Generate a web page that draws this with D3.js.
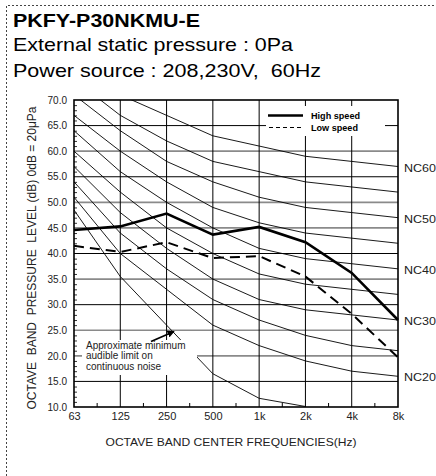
<!DOCTYPE html>
<html>
<head>
<meta charset="utf-8">
<script src="https://cdn.jsdelivr.net/npm/d3@7"></script>
<style>
body { margin: 0; background: #fff; }
svg { display: block; font-family: "Liberation Sans", Arial, sans-serif; }
</style>
</head>
<body>
<div id="container"></div>
<script>
// octave band centre frequencies
const freqLabels = ["63", "125", "250", "500", "1k", "2k", "4k", "8k"];
const yTicks = [10, 15, 20, 25, 30, 35, 40, 45, 50, 55, 60, 65, 70];
const grayGrid = [20, 25, 35, 45, 50, 60];

const highSpeed = [44.6, 45.3, 47.8, 43.7, 45.2, 42.2, 36.2, 27.0];
const lowSpeed = [41.5, 40.3, 42.2, 39.1, 39.5, 35.5, 28.2, 19.7];

// NC curves (dB at each octave band)
const ncLevels = [20, 25, 30, 35, 40, 45, 50, 55, 60];
const ncCurves = [
    [51, 40, 33, 26, 22, 19, 17, 16],
    [54, 44, 37, 31, 27, 24, 22, 21],
    [57, 48, 41, 35, 31, 29, 28, 27],
    [60, 52, 45, 40, 36, 34, 33, 32],
    [64, 56, 50, 45, 41, 39, 38, 37],
    [67, 60, 54, 49, 46, 44, 43, 42],
    [71, 64, 58, 54, 51, 49, 48, 47],
    [74, 67, 62, 58, 56, 54, 53, 52],
    [77, 71, 67, 63, 61, 59, 58, 57]
];
const ncLabeled = [20, 30, 40, 50, 60];
const audibleLimit = [48.5, 35.5, 26.0, 16.5, 11.7, 10.1];

const titleLines = ["External static pressure : 0Pa", "Power source : 208,230V,  60Hz"];
const noteLines = ["Approximate minimum", "audible limit on", "continuous noise"];

const width = 436, height = 476;
const plotL = 74, plotR = 398, plotT = 100, plotB = 407;

const svg = d3.select("#container").append("svg")
    .attr("width", width)
    .attr("height", height);

const x = d3.scalePoint().domain(freqLabels).range([plotL, plotR]);
const y = d3.scaleLinear().domain([10, 70]).range([plotB, plotT]);

// dashed frame round the sheet
svg.append("path")
    .attr("d", `M6.5,${height} V5.5 H${width}`)
    .attr("fill", "none")
    .attr("stroke", "#444")
    .attr("stroke-dasharray", "2,2");

// headings
svg.append("text")
    .attr("x", 13).attr("y", 26.5)
    .attr("font-size", 18.5).attr("font-weight", "bold")
    .attr("textLength", 187).attr("lengthAdjust", "spacingAndGlyphs")
    .text("PKFY-P30NKMU-E");
svg.selectAll("text.sub").data(titleLines).join("text")
    .attr("class", "sub")
    .attr("x", 13)
    .attr("y", (d, i) => 50.5 + i * 26.5)
    .attr("font-size", 18.5)
    .attr("textLength", (d, i) => i ? 308 : 280)
    .attr("lengthAdjust", "spacingAndGlyphs")
    .attr("xml:space", "preserve")
    .text(d => d);

svg.append("clipPath").attr("id", "plot")
    .append("rect").attr("x", plotL).attr("y", plotT)
    .attr("width", plotR - plotL).attr("height", plotB - plotT);

// grid
svg.append("g").selectAll("line")
    .data(yTicks.filter(d => d > 10 && d < 70))
    .join("line")
    .attr("x1", plotL).attr("x2", plotR)
    .attr("y1", d => y(d)).attr("y2", d => y(d))
    .attr("stroke", d => grayGrid.includes(d) ? "#8a8a8a" : "#000")
    .attr("stroke-width", d => grayGrid.includes(d) ? 1.6 : 1);
svg.append("g").selectAll("line")
    .data(freqLabels.slice(1, -1))
    .join("line")
    .attr("x1", d => x(d)).attr("x2", d => x(d))
    .attr("y1", plotT).attr("y2", plotB)
    .attr("stroke", "#000");

// minor ticks
const minorY = d3.range(10, 71).filter(d => d % 5 !== 0);
svg.append("g")
    .attr("transform", `translate(${plotL},0)`)
    .call(d3.axisRight(y).tickValues(minorY).tickSize(3).tickFormat(""))
    .call(g => g.select(".domain").remove())
    .call(g => g.selectAll("line").attr("stroke", "#333"));
const mids = d3.pairs(freqLabels).map(([a, b]) => (x(a) + x(b)) / 2);
svg.append("g").selectAll("line").data(mids).join("line")
    .attr("x1", d => d).attr("x2", d => d)
    .attr("y1", plotB).attr("y2", plotB - 4)
    .attr("stroke", "#000");

// NC curves
const line = d3.line().x((d, i) => x(freqLabels[i])).y(d => y(d));
const curves = svg.append("g").attr("clip-path", "url(#plot)");
curves.selectAll("path.nc").data(ncCurves).join("path")
    .attr("class", "nc")
    .attr("d", line)
    .attr("fill", "none")
    .attr("stroke", "#000")
    .attr("stroke-width", 0.9);
curves.append("path")
    .attr("d", line(audibleLimit))
    .attr("fill", "none")
    .attr("stroke", "#000")
    .attr("stroke-width", 0.9);

// frame
svg.append("rect")
    .attr("x", plotL).attr("y", plotT)
    .attr("width", plotR - plotL).attr("height", plotB - plotT)
    .attr("fill", "none").attr("stroke", "#000").attr("stroke-width", 1.6);

// axes labels
svg.append("g")
    .attr("transform", `translate(${plotL},0)`)
    .call(d3.axisLeft(y).tickValues(yTicks).tickFormat(d3.format(".1f")).tickSize(0).tickPadding(7))
    .call(g => g.select(".domain").remove())
    .call(g => g.selectAll("text").attr("font-size", 10).attr("font-family", null).attr("fill", "#222"));
svg.append("g")
    .attr("transform", `translate(0,${plotB})`)
    .call(d3.axisBottom(x).tickSize(0).tickPadding(5))
    .call(g => g.select(".domain").remove())
    .call(g => g.selectAll("text").attr("font-size", 11).attr("font-family", null).attr("fill", "#222"));

svg.append("text")
    .attr("x", 231).attr("y", 446)
    .attr("text-anchor", "middle")
    .attr("font-size", 11).attr("fill", "#222")
    .attr("textLength", 251).attr("lengthAdjust", "spacingAndGlyphs")
    .text("OCTAVE BAND CENTER FREQUENCIES(Hz)");
svg.append("text")
    .attr("transform", "translate(36,258) rotate(-90)")
    .attr("text-anchor", "middle")
    .attr("font-size", 12).attr("fill", "#222")
    .attr("textLength", 303).attr("lengthAdjust", "spacingAndGlyphs")
    .attr("xml:space", "preserve")
    .text("OCTAVE  BAND  PRESSURE  LEVEL (dB) 0dB = 20\u03bcPa");

// NC labels
svg.append("g").selectAll("text")
    .data(ncLabeled)
    .join("text")
    .attr("x", 404)
    .attr("y", d => y(ncCurves[ncLevels.indexOf(d)][7]) + 1)
    .attr("dy", "0.36em")
    .attr("font-size", 11.5).attr("fill", "#222")
    .attr("textLength", 32).attr("lengthAdjust", "spacingAndGlyphs")
    .text(d => "NC" + d);

// measured series
svg.append("path")
    .attr("d", line(highSpeed))
    .attr("fill", "none").attr("stroke", "#000").attr("stroke-width", 2.6);
svg.append("path")
    .attr("d", line(lowSpeed))
    .attr("fill", "none").attr("stroke", "#000").attr("stroke-width", 2)
    .attr("stroke-dasharray", "10,6");

// legend
const legend = svg.append("g");
legend.append("rect")
    .attr("x", 266).attr("y", 106).attr("width", 119).attr("height", 30)
    .attr("fill", "#fff");
legend.append("line")
    .attr("x1", 268).attr("x2", 303).attr("y1", 115.5).attr("y2", 115.5)
    .attr("stroke", "#000").attr("stroke-width", 2.6);
legend.append("line")
    .attr("x1", 269).attr("x2", 303).attr("y1", 127.5).attr("y2", 127.5)
    .attr("stroke", "#000").attr("stroke-width", 1).attr("stroke-dasharray", "4,3");
legend.selectAll("text").data(["High speed", "Low speed"]).join("text")
    .attr("x", 311)
    .attr("y", (d, i) => 119 + i * 12)
    .attr("font-size", 8.5).attr("font-weight", "bold")
    .attr("textLength", (d, i) => i ? 47 : 49).attr("lengthAdjust", "spacingAndGlyphs")
    .text(d => d);

// note on the audible limit curve
svg.append("defs").append("marker")
    .attr("id", "arrow")
    .attr("viewBox", "0 0 10 10")
    .attr("refX", 9).attr("refY", 5)
    .attr("markerWidth", 4).attr("markerHeight", 4)
    .attr("orient", "auto")
    .append("path").attr("d", "M0,0 L10,5 L0,10 z").attr("fill", "#000");
svg.append("rect")
    .attr("x", 82).attr("y", 340).attr("width", 115).attr("height", 35)
    .attr("fill", "#fff");
svg.append("g").selectAll("text").data(noteLines).join("text")
    .attr("x", 86)
    .attr("y", (d, i) => 349 + i * 10.3)
    .attr("font-size", 10).attr("fill", "#222")
    .text(d => d);
svg.append("line")
    .attr("x1", 151).attr("y1", 341.5).attr("x2", 174).attr("y2", 331.5)
    .attr("stroke", "#000").attr("stroke-width", 1.8)
    .attr("marker-end", "url(#arrow)");
</script>
</body>
</html>
